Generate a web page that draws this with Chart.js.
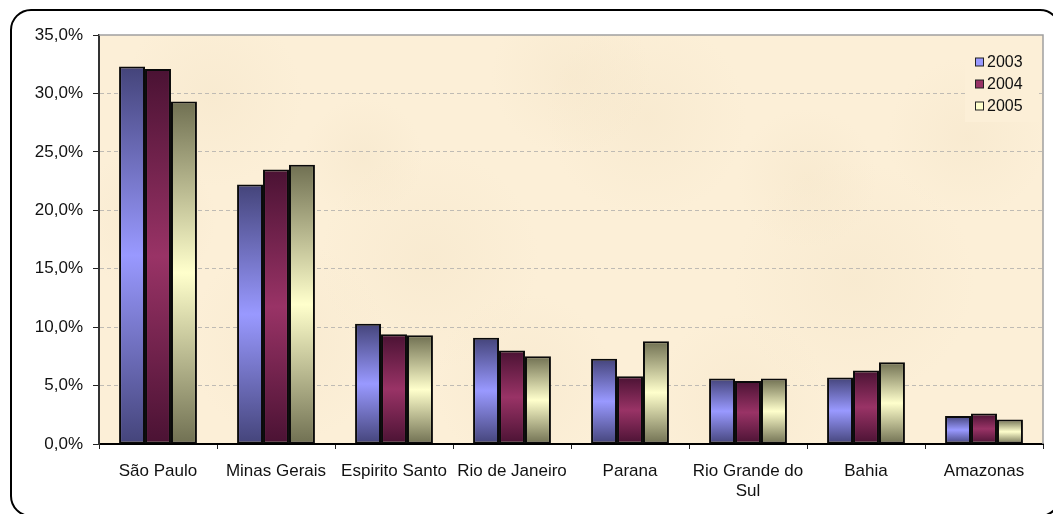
<!DOCTYPE html>
<html>
<head>
<meta charset="utf-8">
<title>Participação por estado</title>
<script src="https://cdn.jsdelivr.net/npm/chart.js@4/dist/chart.umd.min.js"></script>
<style>
    html, body { margin: 0; padding: 0; background: #fff; }
    #wrap { position: relative; width: 1053px; height: 514px; }
</style>
</head>
<body>
<div id="wrap"><canvas id="shareChart"></canvas></div>
<script>
// ================= DATA =================

const states = ['São Paulo', 'Minas Gerais', 'Espirito Santo', 'Rio de Janeiro', 'Parana', ['Rio Grande do', 'Sul'], 'Bahia', 'Amazonas'];
const years = ['2003', '2004', '2005'];

const share2003 = [32.3, 22.2, 10.3, 9.1, 7.3, 5.6, 5.7, 2.4];
const share2004 = [32.1, 23.5, 9.4, 8.0, 5.8, 5.4, 6.3, 2.6];
const share2005 = [29.3, 23.9, 9.3, 7.5, 8.8, 5.6, 7.0, 2.1];

const yMin = 0;
const yMax = 35;
const yStep = 5;

// ================= STYLE =================

const FONT = "'Liberation Sans', Arial, sans-serif";
const PAPER = '#fcefd7';

const palette = [
    { dark: '#44447a', light: '#9999ff' },
    { dark: '#4a1233', light: '#993366' },
    { dark: '#707052', light: '#ffffcc' }
];

// bars are shaded dark -> light -> dark from top to base
function barFill(dark, light) {
    return ctx => {
        const chart = ctx.chart;
        if (!chart.chartArea || ctx.type !== 'data' || !chart.scales.y) return light;
        const y = chart.scales.y;
        const top = y.getPixelForValue(ctx.raw);
        const base = y.getPixelForValue(0);
        if (!(base - top > 1)) return light;
        const g = chart.ctx.createLinearGradient(0, top, 0, base);
        g.addColorStop(0, dark);
        g.addColorStop(0.5, light);
        g.addColorStop(1, dark);
        return g;
    };
}

function fmtPct(v) {
    return v.toFixed(1).replace('.', ',') + '%';
}

// ================= PLUGINS =================

// parchment fill behind the plot area
const paperBackground = {
    id: 'paperBackground',
    beforeDraw(chart) {
        const { ctx, chartArea: a } = chart;
        ctx.save();
        ctx.fillStyle = '#ffffff';
        ctx.fillRect(0, 0, chart.width, chart.height);
        ctx.fillStyle = PAPER;
        ctx.fillRect(a.left, a.top, a.right - a.left, a.bottom - a.top);

        // soft mottling of the paper
        ctx.beginPath();
        ctx.rect(a.left, a.top, a.right - a.left, a.bottom - a.top);
        ctx.clip();
        const spots = [
            [0.12, 0.15, 90], [0.35, 0.55, 110], [0.58, 0.2, 100], [0.8, 0.6, 120],
            [0.45, 0.85, 90], [0.92, 0.25, 80], [0.2, 0.75, 100], [0.68, 0.9, 90],
            [0.05, 0.45, 70], [0.5, 0.1, 80], [0.75, 0.35, 70], [0.28, 0.3, 60]
        ];
        spots.forEach(([fx, fy, r]) => {
            const x = a.left + fx * (a.right - a.left);
            const y = a.top + fy * (a.bottom - a.top);
            const g = ctx.createRadialGradient(x, y, 0, x, y, r);
            g.addColorStop(0, 'rgba(240, 224, 194, 0.3)');
            g.addColorStop(1, 'rgba(240, 224, 194, 0)');
            ctx.fillStyle = g;
            ctx.fillRect(x - r, y - r, r * 2, r * 2);
        });
        ctx.restore();
    }
};

// grey frame of the plot area, legend and the rounded outer border
const frameAndLegend = {
    id: 'frameAndLegend',
    afterDraw(chart) {
        const { ctx, chartArea: a } = chart;
        ctx.save();

        ctx.strokeStyle = '#a0a0a0';
        ctx.lineWidth = 1.5;
        ctx.beginPath();
        ctx.moveTo(a.left, a.top);
        ctx.lineTo(a.right, a.top);
        ctx.lineTo(a.right, a.bottom);
        ctx.stroke();

        // legend
        const lx = 965, ly = 46, lw = 74, lh = 76;
        ctx.fillStyle = PAPER;
        ctx.fillRect(lx, ly, lw, lh);
        ctx.font = '16px ' + FONT;
        ctx.textBaseline = 'middle';
        ctx.textAlign = 'left';
        chart.data.datasets.forEach((ds, i) => {
            const cy = 62 + i * 22;
            ctx.fillStyle = palette[i].light;
            ctx.fillRect(975.5, cy - 4, 8, 8);
            ctx.strokeStyle = '#222';
            ctx.lineWidth = 1;
            ctx.strokeRect(975.5, cy - 4, 8, 8);
            ctx.fillStyle = '#111';
            ctx.fillText(ds.label, 987, cy + 1);
        });

        // outer rounded border, right and bottom edges run off the canvas
        ctx.strokeStyle = '#000';
        ctx.lineWidth = 2;
        ctx.beginPath();
        ctx.roundRect(11, 10, 1049, 506, 20);
        ctx.stroke();

        ctx.restore();
    }
};

// ================= CHART =================

const datasets = [share2003, share2004, share2005].map((values, i) => ({
    label: years[i],
    data: values,
    backgroundColor: barFill(palette[i].dark, palette[i].light),
    borderColor: '#0a0a0a',
    borderWidth: 2,
    borderSkipped: false,
    barPercentage: 1,
    categoryPercentage: 0.66
}));

new Chart(document.getElementById('shareChart'), {
    type: 'bar',
    data: { labels: states, datasets },
    options: {
        responsive: true,
        maintainAspectRatio: false,
        animation: false,
        devicePixelRatio: 1,
        layout: { padding: { top: 35, right: 10, left: 0, bottom: 0 } },
        plugins: {
            legend: { display: false },
            tooltip: { enabled: false }
        },
        scales: {
            x: {
                afterFit: s => { s.height = 70; },
                grid: {
                    display: true,
                    drawOnChartArea: false,
                    drawTicks: true,
                    tickLength: 5,
                    tickColor: '#222',
                    offset: true
                },
                border: { display: true, color: '#000', width: 2 },
                ticks: {
                    color: '#111',
                    padding: 12,
                    maxRotation: 0,
                    autoSkip: false,
                    font: { family: FONT, size: 17 }
                }
            },
            y: {
                min: yMin,
                max: yMax,
                afterFit: s => { s.width = 99; },
                grid: {
                    color: c => (c.tick && (c.tick.value === yMin || c.tick.value === yMax)) ? 'rgba(0,0,0,0)' : '#bfbbb4',
                    lineWidth: 1,
                    drawTicks: true,
                    tickLength: 6,
                    tickColor: '#222',
                    tickBorderDash: [1, 0]
                },
                border: { display: true, color: '#333', width: 2, dash: [4, 3] },
                ticks: {
                    stepSize: yStep,
                    color: '#111',
                    padding: 10,
                    font: { family: FONT, size: 17 },
                    callback: v => fmtPct(v)
                }
            }
        }
    },
    plugins: [paperBackground, frameAndLegend]
});
</script>
</body>
</html>
